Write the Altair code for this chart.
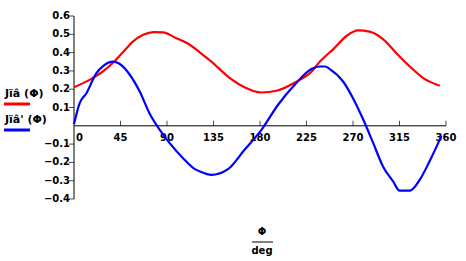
import altair as alt
import pandas as pd

# ---- data ----
red_deg = [0, 15, 28, 38, 48, 57, 67, 77, 86, 99, 112, 122, 133, 149, 165, 181,
           197, 214, 230, 238, 243, 251, 264, 275, 286, 299, 312, 325, 338, 354]
red_val = [0.211, 0.251, 0.297, 0.346, 0.406, 0.46, 0.497, 0.512, 0.51, 0.479,
           0.443, 0.40, 0.351, 0.269, 0.211, 0.182, 0.193, 0.237, 0.297, 0.351,
           0.379, 0.419, 0.492, 0.521, 0.515, 0.474, 0.397, 0.324, 0.261, 0.219]

blue_deg = [0, 5.5, 12, 21.7, 28.4, 38, 44, 54, 63.6, 73, 83, 92.6, 105.5, 117,
            122, 133, 149, 165, 181.4, 197.5, 213.6, 229.7, 238, 243, 247.5,
            260.4, 270, 280, 289.6, 299, 308.8, 315, 325, 334.6, 344, 355.6]
blue_val = [0.01, 0.124, 0.178, 0.288, 0.328, 0.351, 0.339, 0.279, 0.187, 0.069,
            -0.022, -0.095, -0.177, -0.237, -0.25, -0.268, -0.237, -0.131, -0.022,
            0.115, 0.224, 0.31, 0.324, 0.324, 0.31, 0.242, 0.151, 0.033, -0.095,
            -0.222, -0.304, -0.354, -0.354, -0.295, -0.195, -0.055]

series_names = ["Jïâ (Φ)", "Jïâ' (Φ)"]
series_colors = ["#ff0000", "#0000ff"]

x_ticks = [45, 90, 135, 180, 225, 270, 315, 360]
x_tick_labels = ["45", "90", "135", "180", "225", "270", "315", "360"]
y_ticks = [0.6, 0.5, 0.4, 0.3, 0.2, 0.1, -0.1, -0.2, -0.3, -0.4]
y_tick_labels = ["0.6", "0.5", "0.4", "0.3", "0.2", "0.1", "−0.1", "−0.2", "−0.3", "−0.4"]

FONT = "DejaVu Sans"

df = pd.concat([
    pd.DataFrame({"deg": red_deg, "val": red_val, "s": series_names[0], "o": range(len(red_deg))}),
    pd.DataFrame({"deg": blue_deg, "val": blue_val, "s": series_names[1], "o": range(len(blue_deg))}),
])

xs = alt.Scale(domain=[0, 360], nice=False, zero=False)
ys = alt.Scale(domain=[-0.4, 0.6], nice=False, zero=False)


def X(f):
    return alt.X(f, scale=xs, axis=None)


def Y(f):
    return alt.Y(f, scale=ys, axis=None)


lines = alt.Chart(df).mark_line(strokeWidth=2.2, interpolate="monotone").encode(
    x=X("deg:Q"), y=Y("val:Q"),
    color=alt.Color("s:N", scale=alt.Scale(domain=series_names, range=series_colors), legend=None),
    order="o:Q",
)

one = pd.DataFrame({"x0": [0], "x1": [360], "y0": [-0.4], "y1": [0.6], "z": [0]})

x_axis = alt.Chart(one).mark_rule(color="black", strokeWidth=1).encode(
    x=X("x0:Q"), x2="x1", y=Y("z:Q"))
y_axis = alt.Chart(one).mark_rule(color="black", strokeWidth=1).encode(
    y=Y("y0:Q"), y2="y1", x=X("z:Q"))

xt = pd.DataFrame({"deg": x_ticks, "lab": x_tick_labels, "z": 0})
yt = pd.DataFrame({"val": y_ticks, "lab": y_tick_labels, "z": 0})

x_tick_marks = alt.Chart(xt).mark_tick(orient="vertical", size=5, thickness=1, color="black",
                                       yOffset=-2.5).encode(x=X("deg:Q"), y=Y("z:Q"))
y_tick_marks = alt.Chart(yt).mark_tick(orient="horizontal", size=5, thickness=1, color="black",
                                       xOffset=-2.5).encode(y=Y("val:Q"), x=X("z:Q"))

x_labels = alt.Chart(xt).mark_text(font=FONT, fontSize=10, fontWeight="bold", dy=12, align="center").encode(
    x=X("deg:Q"), y=Y("z:Q"), text="lab:N")
zero_label = alt.Chart(pd.DataFrame({"deg": [0], "z": [0], "lab": ["0"]})).mark_text(
    font=FONT, fontSize=10, fontWeight="bold", dy=12, dx=2, align="left").encode(
    x=X("deg:Q"), y=Y("z:Q"), text="lab:N")
y_labels = alt.Chart(yt).mark_text(font=FONT, fontSize=10, fontWeight="bold", dx=-4, align="right").encode(
    y=Y("val:Q"), x=X("z:Q"), text="lab:N")

# legend (left side)
leg_text1 = alt.Chart(one).mark_text(text=series_names[0], font=FONT, fontSize=11, fontWeight="bold",
                                     align="left", baseline="alphabetic").encode(x=alt.value(-69), y=alt.value(81))
leg_line1 = alt.Chart(one).mark_rule(color=series_colors[0], strokeWidth=3).encode(
    x=alt.value(-70), x2=alt.value(-44), y=alt.value(88))
leg_text2 = alt.Chart(one).mark_text(text=series_names[1], font=FONT, fontSize=11, fontWeight="bold",
                                     align="left", baseline="alphabetic").encode(x=alt.value(-69), y=alt.value(107))
leg_line2 = alt.Chart(one).mark_rule(color=series_colors[1], strokeWidth=3).encode(
    x=alt.value(-70), x2=alt.value(-44), y=alt.value(114))

# x title as fraction  Φ / deg
t_top = alt.Chart(one).mark_text(text="Φ", font=FONT, fontSize=10, fontWeight="bold",
                                 align="center", baseline="alphabetic").encode(x=alt.value(188), y=alt.value(219))
t_bar = alt.Chart(one).mark_rule(color="black", strokeWidth=1).encode(
    x=alt.value(178), x2=alt.value(199), y=alt.value(226))
t_bot = alt.Chart(one).mark_text(text="deg", font=FONT, fontSize=10, fontWeight="bold",
                                 align="center", baseline="alphabetic").encode(x=alt.value(188), y=alt.value(238))

chart = alt.layer(
    x_axis, y_axis, x_tick_marks, y_tick_marks, x_labels, zero_label, y_labels,
    lines, leg_text1, leg_line1, leg_text2, leg_line2, t_top, t_bar, t_bot,
).properties(
    width=372, height=183,
    padding={"left": 74, "top": 16, "right": 20, "bottom": 62},
    autosize="none",
    background="white",
).configure_view(stroke=None)

chart.save("out.html", embed_options={"renderer": "svg", "actions": False})
